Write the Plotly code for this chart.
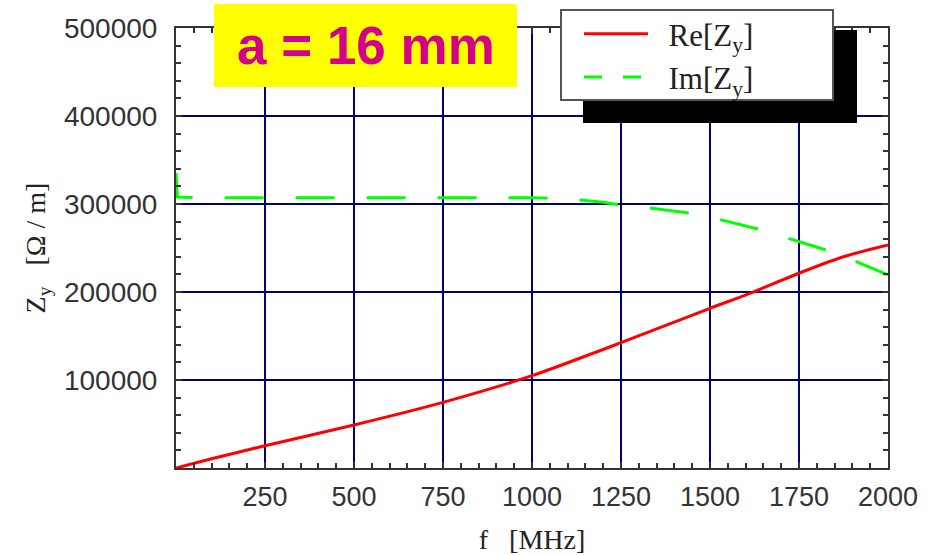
import plotly.graph_objects as go

# ---- data ----
re_f = [0, 100, 250, 500, 750, 1000, 1250, 1500, 1612, 1753, 1875, 2000]
re_z = [0, 10500, 25300, 48900, 74600, 104900, 142400, 181500, 198500, 221900, 240100, 253400]

im_f = [0, 4, 50, 500, 1000, 1100, 1200, 1250, 1322, 1435, 1520, 1636, 1715, 1823, 1901, 2000]
im_z = [335000, 308000, 307200, 307200, 307200, 306000, 302000, 298500, 296000, 290000,
        283000, 271500, 261500, 248000, 236000, 219500]

x_ticks = [250, 500, 750, 1000, 1250, 1500, 1750, 2000]
y_ticks = [100000, 200000, 300000, 400000, 500000]

title_text = "a = 16 mm"
pad = "\u00a0\u00a0"
RED = "#ff0000"
GREEN = "#00ff00"

fig = go.Figure()
fig.add_trace(go.Scatter(x=re_f, y=re_z, mode="lines", name=pad + "Re[Z<sub>y</sub>]",
                         line=dict(color=RED, width=3, shape="spline", smoothing=0.6)))
fig.add_trace(go.Scatter(x=im_f, y=im_z, mode="lines", showlegend=False,
                         line=dict(color=GREEN, width=3, dash="39px,32px")))
# legend entry for Im (legend sample uses shorter dashes, as in the reference)
fig.add_trace(go.Scatter(x=[None], y=[None], mode="lines", name=pad + "Im[Z<sub>y</sub>]",
                         line=dict(color=GREEN, width=3, dash="18px,21px")))

tickfont_x = dict(family="Liberation Sans, Arial, sans-serif", size=27, color="#333333")
tickfont_y = dict(family="Liberation Sans, Arial, sans-serif", size=28, color="#333333")
serif = "Liberation Serif, Times New Roman, serif"

def px_x(p):
    return (p - 176) / 712

def px_y(p):
    return (468 - p) / 440

fig.update_layout(
    width=934, height=555,
    margin=dict(l=176, r=46, t=28, b=87, autoexpand=False),
    paper_bgcolor="white", plot_bgcolor="white",
    showlegend=True,
    legend=dict(
        x=px_x(579), y=px_y(7), xanchor="left", yanchor="top",
        bgcolor="rgba(0,0,0,0)", borderwidth=0,
        font=dict(family=serif, size=31, color="#222222"),
        itemwidth=64,
    ),
    xaxis=dict(
        range=[0, 2000], tickvals=x_ticks, ticktext=[str(v) for v in x_ticks],
        showgrid=True, gridcolor="#00007a", gridwidth=2, automargin=False,
        zeroline=False, showline=True, linecolor="#333333", linewidth=2, mirror="ticks",
        ticks="inside", ticklen=6, tickwidth=2, tickcolor="#333333",
        minor=dict(dtick=50, ticks="inside", ticklen=5, tickwidth=2, tickcolor="#333333", showgrid=False),
        tickfont=tickfont_x, ticklabelstandoff=4,
        title=dict(text="f   [MHz]", font=dict(family=serif, size=28, color="#222222"), standoff=24),
    ),
    yaxis=dict(
        range=[0, 500000], tickvals=y_ticks, ticktext=[str(v) for v in y_ticks],
        showgrid=True, gridcolor="#00007a", gridwidth=2, automargin=False,
        zeroline=False, showline=True, linecolor="#333333", linewidth=2, mirror="ticks",
        ticks="inside", ticklen=6, tickwidth=2, tickcolor="#333333",
        minor=dict(dtick=20000, ticks="inside", ticklen=5, tickwidth=2, tickcolor="#333333", showgrid=False),
        tickfont=tickfont_y, ticklabelstandoff=11,
        title=dict(text="Z<sub>y</sub>   [Ω / m]", font=dict(family=serif, size=28, color="#222222"), standoff=10),
    ),
    shapes=[
        # legend shadow
        dict(type="rect", xref="paper", yref="paper",
             x0=px_x(583), x1=px_x(857), y0=px_y(123), y1=px_y(30),
             fillcolor="black", line=dict(width=0), layer="above"),
        # legend box
        dict(type="rect", xref="paper", yref="paper",
             x0=px_x(561), x1=px_x(833), y0=px_y(100), y1=px_y(10),
             fillcolor="white", line=dict(color="#555555", width=2), layer="above"),
        # yellow title box
        dict(type="rect", xref="paper", yref="paper",
             x0=px_x(214), x1=px_x(517), y0=px_y(87), y1=px_y(4),
             fillcolor="#ffff00", line=dict(width=0), layer="above"),
    ],
    annotations=[
        dict(text=title_text, xref="paper", yref="paper",
             x=px_x(365.5), y=px_y(45.5), xanchor="center", yanchor="middle",
             showarrow=False,
             font=dict(family="Liberation Sans, Arial, sans-serif", size=53, color="#d4008c", weight="bold")),
    ],
)

fig.write_html("out.html", config={"displayModeBar": False},
               post_script="document.body.style.margin='0';")
